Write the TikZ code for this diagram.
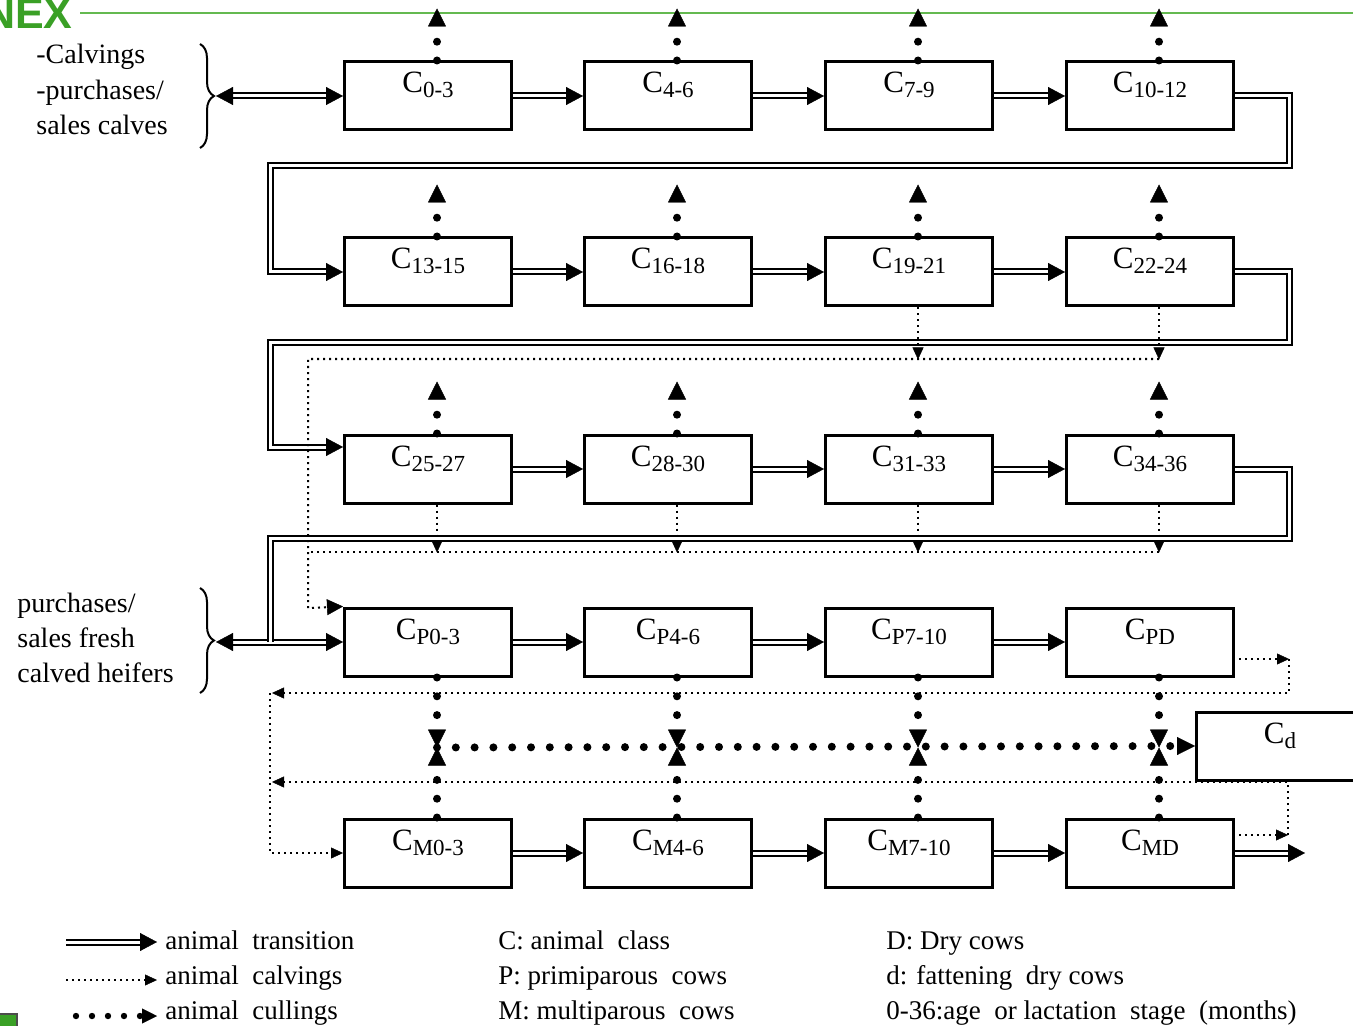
\documentclass[tikz,border=0pt]{standalone}
\usepackage{fontspec}
\setmainfont{Liberation Serif}
\newfontfamily\annexfont{Liberation Sans}
\usetikzlibrary{arrows.meta,decorations.pathreplacing,calc}
\definecolor{annexgreen}{RGB}{58,160,38}
\definecolor{annexline}{RGB}{100,185,80}
\newcommand\clab[1]{C\raisebox{-2.5pt}{\fontsize{11.5}{11.5}\selectfont #1}}
\tikzset{
  transtip/.tip={Triangle[length=8.5pt,width=9pt,line width=0.2pt]},
  culltip/.tip={Triangle[length=9pt,width=9pt,line width=0.2pt]},
  calvtip/.tip={Triangle[length=6pt,width=5.5pt,line width=0.2pt]},
  bigcalvtip/.tip={Triangle[length=8pt,width=8pt,line width=0.2pt]},
}
\begin{document}
\begin{tikzpicture}[x=0.5pt,y=-0.5pt,
  box/.style={draw,line width=1.5pt,minimum width=83.5pt,minimum height=34pt,inner sep=0pt,
     text height=10pt,text depth=13pt,font=\fontsize{15.5}{15.5}\selectfont},
  dbl/.style={double,line width=1pt,double distance=1.5pt},
  trans/.style={dbl,-transtip},
  trans2/.style={dbl,transtip-transtip},
  cull/.style={line width=4pt,line cap=round,dash pattern=on 0pt off 9.4pt,-culltip},
  calv/.style={line width=1pt,dash pattern=on 1pt off 2pt,-calvtip},
  calvl/.style={line width=1pt,dash pattern=on 1pt off 2pt},
  txt/.style={anchor=base west,inner sep=0pt,font=\fontsize{14}{14}\selectfont},
  leg/.style={anchor=base west,inner sep=0pt,font=\fontsize{13.5}{13.5}\selectfont},
  brc/.style={line width=1pt,decorate,decoration={brace,amplitude=7pt}}
]
\useasboundingbox (0,0) rectangle (1353,1026);

% slide remnants
\node[anchor=base east,inner sep=0pt,text=annexgreen,font=\annexfont\bfseries\fontsize{21.5}{21.5}\selectfont] (nex) at (73,29) {NEX};
\coordinate (gl1) at (80,13); \coordinate (gl2) at (1353,13);
\draw[annexline,line width=0.8pt] (gl1) -- (gl2);
\node[draw=black!70,fill=annexgreen,line width=0.8pt,minimum width=10pt,minimum height=8pt,inner sep=0pt] (gsq) at (7,1022) {};

% boxes
\node[box] (c03)   at (428,96)  {\clab{0-3}};
\node[box] (c46)   at (668,96)  {\clab{4-6}};
\node[box] (c79)   at (909,96)  {\clab{7-9}};
\node[box] (c1012) at (1150,96) {\clab{10-12}};
\node[box] (c1315) at (428,272) {\clab{13-15}};
\node[box] (c1618) at (668,272) {\clab{16-18}};
\node[box] (c1921) at (909,272) {\clab{19-21}};
\node[box] (c2224) at (1150,272){\clab{22-24}};
\node[box] (c2527) at (428,469) {\clab{25-27}};
\node[box] (c2830) at (668,469) {\clab{28-30}};
\node[box] (c3133) at (909,469) {\clab{31-33}};
\node[box] (c3436) at (1150,469){\clab{34-36}};
\node[box] (cp03)  at (428,642) {\clab{P0-3}};
\node[box] (cp46)  at (668,642) {\clab{P4-6}};
\node[box] (cp710) at (909,642) {\clab{P7-10}};
\node[box] (cpd)   at (1150,642){\clab{PD}};
\node[box] (cm03)  at (428,853) {\clab{M0-3}};
\node[box] (cm46)  at (668,853) {\clab{M4-6}};
\node[box] (cm710) at (909,853) {\clab{M7-10}};
\node[box] (cmd)   at (1150,853){\clab{MD}};
\node[box] (cd)    at (1280,746){\clab{d}};

% left texts and braces
\node[txt] (ta) at (36,64)  {-Calvings};
\node[txt] (tb) at (36,99.5){-purchases/};
\node[txt] (tc) at (36,135) {sales calves};
\node[txt] (td) at (17,612) {purchases/};
\node[txt] (te) at (17,647) {sales fresh};
\node[txt] (tf) at (17,682) {calved heifers};
\coordinate (bt1) at (200,44);  \coordinate (bb1) at (200,148);
\coordinate (bt2) at (200,588); \coordinate (bb2) at (200,693);
\draw[brc] (bt1) -- (bb1);
\draw[brc] (bt2) -- (bb2);
\coordinate (br1) at (216,96);
\coordinate (br2) at (216,642);

% transitions
\draw[trans2] (br1) -- (c03);
\foreach \a/\b in {c03/c46,c46/c79,c79/c1012,c1315/c1618,c1618/c1921,c1921/c2224,
  c2527/c2830,c2830/c3133,c3133/c3436,cp03/cp46,cp46/cp710,cp710/cpd,cm03/cm46,cm46/cm710,cm710/cmd}
  \draw[trans] (\a) -- (\b);
\coordinate (out) at (1305,853);
\draw[trans] (cmd) -- (out);
\draw[dbl,-transtip] (c1012.east) -- (1289,96) -- (1289,166) -- (270,166) -- (270,272) -- (c1315.west);
\draw[dbl,-transtip] (c2224.east) -- (1289,272) -- (1289,343) -- (270,343) -- (270,447) -- ($(c2527.west)+(0,-22)$);
\draw[trans2] (br2) -- (cp03);
\draw[dbl] (c3436.east) -- (1289,469) -- (1289,538) -- (270,538) -- (270,642);

% cullings up
\foreach \n in {c03,c46,c79,c1012,c1315,c1618,c1921,c2224,c2527,c2830,c3133,c3436}
  \draw[cull] ($(\n.north)+(9,0)$) -- ($(\n.north)+(9,-52)$);

% calvings from heifers
\foreach \n in {c1921,c2224}
  \draw[calv] ($(\n.south)+(9,0)$) -- ($(\n.south)+(9,52)$);
\foreach \n in {c2527,c2830,c3133,c3436}
  \draw[calv] ($(\n.south)+(9,0)$) -- ($(\n.south)+(9,48)$);
\coordinate (h1r) at (1159,359); \coordinate (h1l) at (308,359);
\coordinate (h2r) at (1159,552); \coordinate (h2l) at (308,552);
\draw[calvl,-bigcalvtip] (h1r) -- (h1l) -- (308,608) -- (cp03.north west);
\draw[calvl] (h2r) -- (h2l);

% calvings of cows
\coordinate (k1) at (1289,659); \coordinate (k2) at (272,693);
\coordinate (k3) at (1288,835); \coordinate (k4) at (272,782);
\draw[calv] ($(cpd.east)+(4,17)$) -- (k1);
\draw[calv] (k1) -- (1289,693) -- (k2);
\draw[calv] (270,693) -- (270,853) -- (cm03.west);
\draw[calv] ($(cmd.east)+(4,-18)$) -- (k3);
\draw[calv] (k3) -- (1288,782) -- (k4);

% cullings of cows
\foreach \a/\b in {cp03/cm03,cp46/cm46,cp710/cm710,cpd/cmd}{
  \draw[cull] ($(\a.south)+(9,0)$) -- ($(\a.south)+(9,70)$);
  \draw[cull] ($(\b.north)+(9,0)$) -- ($(\a.south)+(9,70)$);
}
\draw[cull] ($(cp03.south)+(9,70)$) -- (cd.west);

% legend
\coordinate (la1) at (66,942);  \coordinate (la2) at (157,942);
\coordinate (lb1) at (66,980);  \coordinate (lb2) at (157,980);
\coordinate (lc1) at (76,1016); \coordinate (lc2) at (157,1016);
\draw[trans] (la1) -- (la2);
\draw[calv] (lb1) -- (lb2);
\draw[line width=3.2pt,line cap=round,dash pattern=on 0pt off 8pt,-{Triangle[length=7.5pt,width=7.5pt,line width=0.2pt]}] (lc1) -- (lc2);
\node[leg] (l1) at (165,949) {animal~ transition};
\node[leg] (l2) at (165,984) {animal~ calvings};
\node[leg] (l3) at (165,1019) {animal~ cullings};
\node[leg] (l4) at (498,949) {C: animal~ class};
\node[leg] (l5) at (498,984) {P: primiparous~ cows};
\node[leg] (l6) at (498,1019) {M: multiparous~ cows};
\node[leg] (l7) at (886,949) {D: Dry cows};
\node[leg] (l8) at (886,984) {d: fattening~ dry cows};
\node[leg] (l9) at (886,1019) {0-36:age~ or lactation~ stage~ (months)};
\end{tikzpicture}
\end{document}
